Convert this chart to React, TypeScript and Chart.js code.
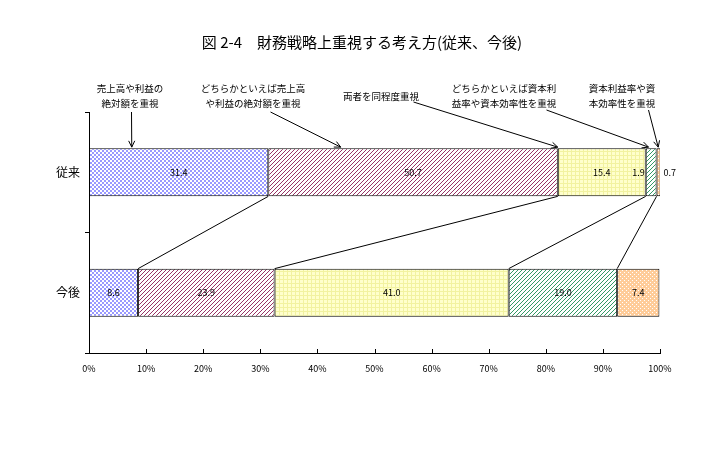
import React, { useEffect, useRef } from "react";
import { Chart, registerables } from "chart.js";

Chart.register(...registerables);

const categories = ["従来", "今後"];
const seriesNames = [
  "売上高や利益の絶対額を重視",
  "どちらかといえば売上高や利益の絶対額を重視",
  "両者を同程度重視",
  "どちらかといえば資本利益率や資本効率性を重視",
  "資本利益率や資本効率性を重視",
];
const s1 = [31.4, 8.6];
const s2 = [50.7, 23.9];
const s3 = [15.4, 41.0];
const s4 = [1.9, 19.0];
const s5 = [0.7, 7.4];
const seriesValues = [s1, s2, s3, s4, s5];
const xTicks = [0, 10, 20, 30, 40, 50, 60, 70, 80, 90, 100];

const titleText = "図 2-4　財務戦略上重視する考え方(従来、今後)";

// callout notes: text lines, and the value on the x axis the arrow points to (top of 従来 bar)
const noteLines = [
  ["売上高や利益の", "絶対額を重視"],
  ["どちらかといえば売上高", "や利益の絶対額を重視"],
  ["両者を同程度重視"],
  ["どちらかといえば資本利", "益率や資本効率性を重視"],
  ["資本利益率や資", "本効率性を重視"],
];
const noteTargets = [7.4, 44.0, 82.0, 97.9, 99.6];
// layout of the callouts (pixels)
const noteLayout = [
  { cx: 130, cy: 88, sx: 131, sy: 112 },
  { cx: 253, cy: 88, sx: 270, sy: 112 },
  { cx: 381, cy: 96, sx: 413, sy: 102 },
  { cx: 504, cy: 88, sx: 546, sy: 110 },
  { cx: 622, cy: 88, sx: 648, sy: 110 },
];

const FONT = "'Noto Sans CJK JP', 'Noto Sans', sans-serif";

function makePattern(kind: string): CanvasPattern | string {
  const c = document.createElement("canvas");
  const size = 4;
  c.width = size;
  c.height = size;
  const g = c.getContext("2d")!;
  g.fillStyle = "#ffffff";
  g.fillRect(0, 0, size, size);
  if (kind === "blue") {
    g.fillStyle = "#9999ff";
    g.fillRect(0, 0, 2, 2);
    g.fillRect(2, 2, 2, 2);
  } else if (kind === "maroon" || kind === "teal") {
    g.fillStyle = kind === "maroon" ? "#993366" : "#339966";
    for (let i = 0; i < size; i++) {
      g.fillRect((size - 1 - i + size) % size, i, 1, 1);
    }
  } else if (kind === "yellow") {
    g.fillStyle = "#ffffcc";
    g.fillRect(0, 0, size, size);
    g.fillStyle = "#f2f2a0";
    g.fillRect(0, 3, size, 1);
    g.fillRect(3, 0, 1, size);
  } else if (kind === "orange") {
    g.fillStyle = "#ffcc99";
    g.fillRect(0, 0, size, size);
    g.fillStyle = "#ffffff";
    g.fillRect(0, 0, 1, 1);
    g.fillRect(2, 2, 1, 1);
  }
  const ctx = document.createElement("canvas").getContext("2d")!;
  return ctx.createPattern(c, "repeat") || "#ccc";
}

export default function App() {
  const ref = useRef<HTMLCanvasElement | null>(null);

  useEffect(() => {
    document.body.style.margin = "0";
    const canvas = ref.current!;
    const patterns = [
      makePattern("blue"),
      makePattern("maroon"),
      makePattern("yellow"),
      makePattern("teal"),
      makePattern("orange"),
    ];

    const overlay = {
      id: "overlay",
      afterDatasetsDraw(chart: any) {
        const ctx = chart.ctx as CanvasRenderingContext2D;
        const xs = chart.scales.x;
        const area = chart.chartArea;
        ctx.save();
        // data labels
        ctx.font = `9px ${FONT}`;
        ctx.fillStyle = "#000";
        ctx.textBaseline = "middle";
        seriesValues.forEach((vals, di) => {
          const meta = chart.getDatasetMeta(di);
          vals.forEach((v, ci) => {
            const el = meta.data[ci];
            const txt = v.toFixed(1);
            const left = Math.min(el.x, el.base);
            const right = Math.max(el.x, el.base);
            const w = right - left;
            if (w >= 20) {
              ctx.textAlign = "center";
              ctx.fillText(txt, (left + right) / 2, el.y);
            } else if (di === seriesValues.length - 1) {
              ctx.textAlign = "left";
              ctx.fillText(txt, right + 3, el.y);
            } else {
              ctx.textAlign = "right";
              ctx.fillText(txt, left - 1, el.y);
            }
          });
        });
        // series lines
        ctx.strokeStyle = "#000";
        ctx.lineWidth = 1;
        for (let di = 0; di < seriesValues.length - 1; di++) {
          const meta = chart.getDatasetMeta(di);
          const a = meta.data[0];
          const b = meta.data[1];
          ctx.beginPath();
          ctx.moveTo(a.x, a.y + a.height / 2);
          ctx.lineTo(b.x, b.y - b.height / 2);
          ctx.stroke();
        }
        // x ticks (inward)
        xTicks.forEach((t) => {
          const px = Math.round(xs.getPixelForValue(t)) + 0.5;
          ctx.beginPath();
          ctx.moveTo(px, area.bottom);
          ctx.lineTo(px, area.bottom - 4);
          ctx.stroke();
        });
        // title
        ctx.font = `15px ${FONT}`;
        ctx.textAlign = "center";
        ctx.fillText(titleText, 362, 42);
        // callouts
        const top0 = (() => {
          const el = chart.getDatasetMeta(0).data[0];
          return el.y - el.height / 2;
        })();
        ctx.font = `9.5px ${FONT}`;
        noteLines.forEach((lines, i) => {
          const L = noteLayout[i];
          lines.forEach((ln, k) => {
            ctx.fillText(ln, L.cx, L.cy + k * 15);
          });
          const ex = xs.getPixelForValue(noteTargets[i]);
          const ey = top0 - 1;
          ctx.beginPath();
          ctx.moveTo(L.sx + 0.5, L.sy);
          ctx.lineTo(ex + 0.5, ey);
          ctx.stroke();
          const ang = Math.atan2(ey - L.sy, ex - L.sx);
          const ah = 7;
          const spread = 0.45;
          ctx.beginPath();
          ctx.moveTo(ex + 0.5 - ah * Math.cos(ang - spread), ey - ah * Math.sin(ang - spread));
          ctx.lineTo(ex + 0.5, ey);
          ctx.lineTo(ex + 0.5 - ah * Math.cos(ang + spread), ey - ah * Math.sin(ang + spread));
          ctx.stroke();
        });
        ctx.restore();
      },
    };

    const chart = new Chart(canvas, {
      type: "bar",
      data: {
        labels: categories,
        datasets: seriesValues.map((vals, i) => ({
          label: seriesNames[i],
          data: vals,
          backgroundColor: patterns[i] as any,
          borderColor: "#000",
          borderWidth: 1,
          borderSkipped: false,
          categoryPercentage: 1,
          barPercentage: 0.4,
        })),
      },
      options: {
        indexAxis: "y",
        animation: false,
        responsive: false,
        events: [],
        layout: { padding: { top: 112, right: 60, left: 0, bottom: 0 } },
        plugins: {
          legend: { display: false },
          tooltip: { enabled: false },
          title: { display: false },
        },
        scales: {
          x: {
            stacked: true,
            min: 0,
            max: 100,
            ticks: {
              stepSize: 10,
              callback: (v: any) => `${v}%`,
              font: { family: FONT, size: 9 },
              color: "#000",
              padding: 10,
              maxRotation: 0,
            },
            grid: { display: false, drawTicks: false },
            border: { display: true, color: "#000", width: 1 },
            afterFit: (s: any) => {
              s.height = 102;
            },
          },
          y: {
            stacked: true,
            ticks: {
              font: { family: FONT, size: 12 },
              color: "#000",
              padding: 5,
            },
            grid: {
              display: true,
              drawOnChartArea: false,
              drawTicks: true,
              tickLength: 4,
              color: "#000",
              offset: true,
            },
            border: { display: true, color: "#000", width: 1 },
            afterFit: (s: any) => {
              s.width = 89;
            },
          },
        },
      },
      plugins: [overlay],
    });
    return () => chart.destroy();
  }, []);

  return <canvas ref={ref} width={720} height={455} style={{ display: "block" }} />;
}
